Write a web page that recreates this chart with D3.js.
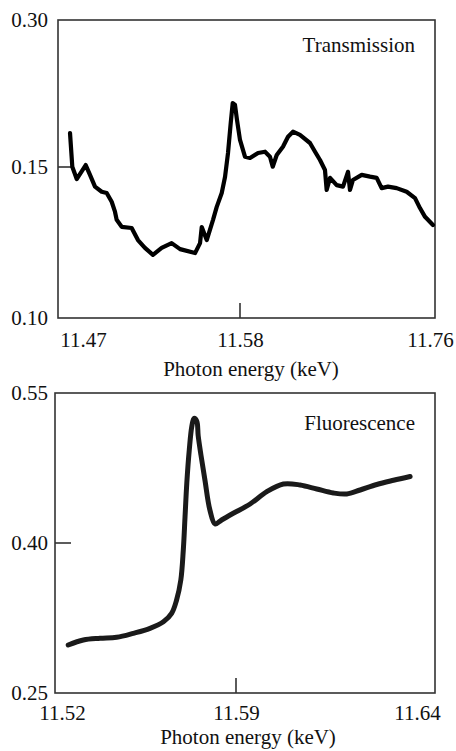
<!DOCTYPE html>
<html>
    <head>
        <meta charset="utf-8">
        <script src="https://cdn.jsdelivr.net/npm/d3@7"></script>
        <style>
            body { margin: 0; background: #fff; }
            text { font-family: "Liberation Serif", "Times New Roman", serif; fill: #111; }
        </style>
        <script>
            // Transmission panel (keV, signal)
            var transEnergy = [11.4609, 11.4625, 11.4656, 11.4719, 11.4749, 11.4784, 11.4831, 11.4866, 11.4901, 11.4924,
                               11.4936, 11.4971, 11.5041, 11.5085, 11.5134, 11.5190, 11.5251, 11.5321, 11.5380, 11.5485,
                               11.5520, 11.5532, 11.5567, 11.5611, 11.5637, 11.5672, 11.5695, 11.5716, 11.5735, 11.5749,
                               11.5765, 11.5779, 11.5800, 11.5847, 11.5895, 11.5971, 11.6037, 11.6084, 11.6110, 11.6148,
                               11.6207, 11.6255, 11.6302, 11.6368, 11.6463, 11.6511, 11.6558, 11.6605, 11.6621, 11.6653,
                               11.6716, 11.6776, 11.6823, 11.6842, 11.6870, 11.6953, 11.7032, 11.7095, 11.7142, 11.7202,
                               11.7284, 11.7379, 11.7458, 11.7505, 11.7553, 11.7628];
            var transValue  = [0.1847, 0.1503, 0.1460, 0.1520, 0.1474, 0.1435, 0.1418, 0.1414, 0.1385, 0.1352,
                               0.1325, 0.1302, 0.1298, 0.1258, 0.1232, 0.1209, 0.1232, 0.1248, 0.1228, 0.1215,
                               0.1248, 0.1301, 0.1258, 0.1325, 0.1368, 0.1414, 0.1467, 0.1643, 0.1949, 0.2153,
                               0.2133, 0.1980, 0.1776, 0.1605, 0.1592, 0.1643, 0.1656, 0.1605, 0.1503, 0.1622,
                               0.1707, 0.1809, 0.1860, 0.1827, 0.1745, 0.1656, 0.1571, 0.1490, 0.1424, 0.1464,
                               0.1440, 0.1435, 0.1484, 0.1424, 0.1457, 0.1474, 0.1468, 0.1464, 0.1430, 0.1435,
                               0.1430, 0.1418, 0.1397, 0.1364, 0.1335, 0.1308];
            var transXTicks = [11.47, 11.58, 11.76];
            var transYTicks = [0.10, 0.15, 0.30];

            // Fluorescence panel
            var fluorEnergy = [11.5225, 11.5286, 11.5353, 11.5420, 11.5487, 11.5554, 11.5608, 11.5641, 11.5661, 11.5678,
                               11.5688, 11.5695, 11.5702, 11.5712, 11.5722, 11.5731, 11.5742, 11.5748, 11.5759, 11.5775,
                               11.5795, 11.5816, 11.5842, 11.5889, 11.5939, 11.5985, 11.6031, 11.6077, 11.6123, 11.6169,
                               11.6206, 11.6243, 11.6289, 11.6335, 11.6381];
            var fluorValue  = [0.298, 0.303, 0.3047, 0.3057, 0.3097, 0.3147, 0.3213, 0.3297, 0.343, 0.363,
                               0.393, 0.4263, 0.4597, 0.493, 0.5163, 0.5247, 0.522, 0.507, 0.488, 0.463,
                               0.433, 0.419, 0.423, 0.4297, 0.439, 0.4513, 0.459, 0.458, 0.454, 0.450,
                               0.449, 0.453, 0.4585, 0.4627, 0.4665];
            var fluorXTicks = [11.52, 11.59, 11.64];
            var fluorYTicks = [0.25, 0.40, 0.55];

            function drawPanel(svg, p) {
                var g = svg.append("g");

                // frame
                g.append("rect")
                 .attr("x", p.left).attr("y", p.top)
                 .attr("width", p.right - p.left).attr("height", p.bottom - p.top)
                 .attr("fill", "none").attr("stroke", "#333").attr("stroke-width", 1.6);

                // axes, labels only
                var yAx = g.append("g").attr("transform", "translate(" + p.left + ",0)")
                           .call(d3.axisLeft(p.y).tickValues(p.yTicks).tickSize(0).tickPadding(p.left - 48)
                                   .tickFormat(d3.format(".2f")));
                var xAx = g.append("g").attr("transform", "translate(0," + p.bottom + ")")
                           .call(d3.axisBottom(p.x).tickValues(p.xTicks).tickSize(0).tickPadding(p.xPad)
                                   .tickFormat(d3.format(".2f")));
                [yAx, xAx].forEach(function(a) {
                    a.select(".domain").remove();
                    a.attr("font-family", null);
                    a.selectAll("text").attr("font-size", 21).attr("fill", "#111");
                });

                // inward ticks for the middle values
                g.append("line")
                 .attr("x1", p.left).attr("x2", p.left + 16)
                 .attr("y1", p.y(p.yTicks[1])).attr("y2", p.y(p.yTicks[1]))
                 .attr("stroke", "#333").attr("stroke-width", 1.6);
                g.append("line")
                 .attr("x1", p.x(p.xTicks[1])).attr("x2", p.x(p.xTicks[1]))
                 .attr("y1", p.bottom - 15).attr("y2", p.bottom)
                 .attr("stroke", "#333").attr("stroke-width", 1.6);

                // curve
                var pts = p.ex.map((e, i) => [p.x(e), p.y(p.val[i])]);
                g.append("path")
                 .attr("d", d3.line().curve(p.curve)(pts))
                 .attr("fill", "none")
                 .attr("stroke", p.color)
                 .attr("stroke-width", p.width)
                 .attr("stroke-linejoin", "round")
                 .attr("stroke-linecap", "round");

                g.append("text")
                 .attr("x", 415).attr("y", p.labelY)
                 .attr("text-anchor", "end")
                 .attr("font-size", 21)
                 .text(p.label);

                g.append("text")
                 .attr("x", p.titleX).attr("y", p.titleY)
                 .attr("text-anchor", "middle")
                 .attr("font-size", 21)
                 .text("Photon energy (keV)");
            }

            function makeSVG() {
                var svg = d3.select("#fig");

                drawPanel(svg, {
                    left: 58, right: 435, top: 20, bottom: 318,
                    x: d3.scaleLinear().domain(transXTicks).range([83, 240, 430]),
                    y: d3.scaleLinear().domain(transYTicks).range([318, 167, 20]),
                    xTicks: transXTicks, yTicks: transYTicks, xPad: 14,
                    ex: transEnergy, val: transValue,
                    color: "#000", width: 4.2, curve: d3.curveLinear,
                    label: "Transmission", labelY: 52,
                    titleX: 251, titleY: 376
                });

                drawPanel(svg, {
                    left: 55, right: 435, top: 393, bottom: 693,
                    x: d3.scaleLinear().domain(fluorXTicks).range([62, 236, 417]),
                    y: d3.scaleLinear().domain([0.25, 0.55]).range([693, 393]),
                    xTicks: fluorXTicks, yTicks: fluorYTicks, xPad: 12,
                    ex: fluorEnergy, val: fluorValue,
                    color: "#1a1a1a", width: 5, curve: d3.curveCatmullRom,
                    label: "Fluorescence", labelY: 430,
                    titleX: 248, titleY: 744
                });
            }
        </script>
    </head>
    <body onload="makeSVG()">
        <svg id="fig" width="456" height="751"></svg>
    </body>
</html>
